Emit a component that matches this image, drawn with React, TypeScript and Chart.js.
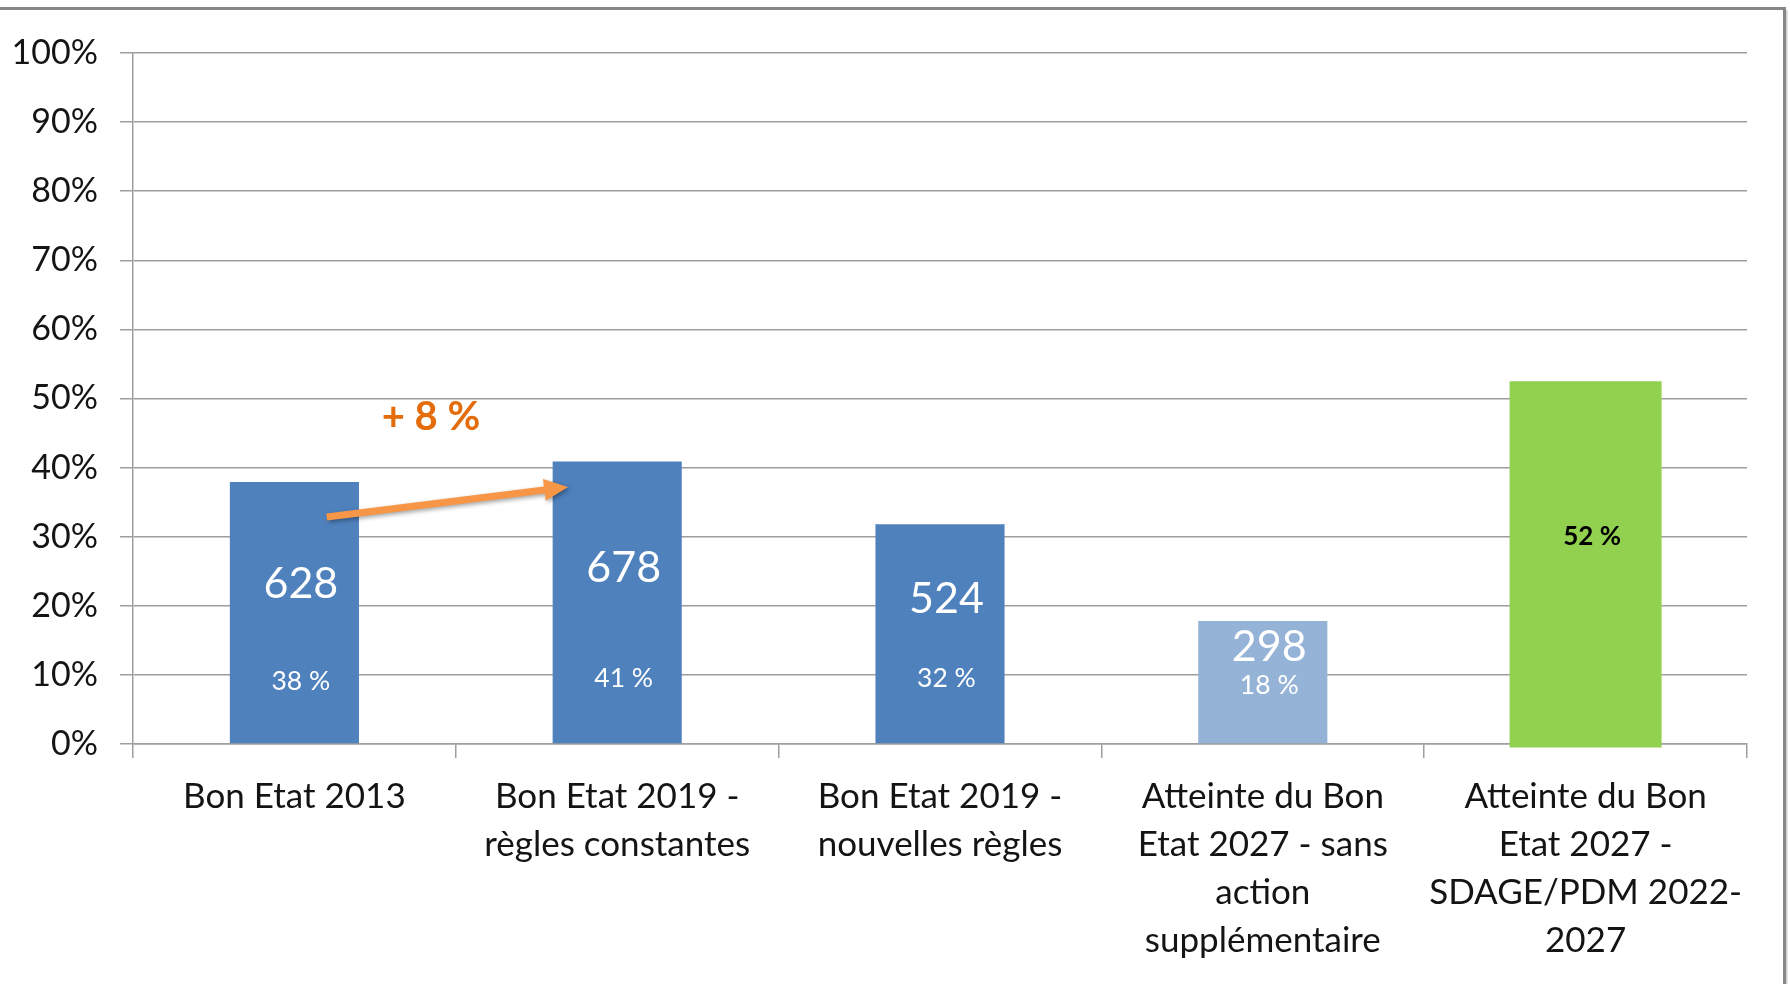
import React, { useEffect, useRef } from "react";
import { Chart, registerables } from "chart.js";

Chart.register(...registerables);

// ---------- data ----------
const categories: string[][] = [
  ["Bon Etat 2013"],
  ["Bon Etat 2019 -", "règles constantes"],
  ["Bon Etat 2019 -", "nouvelles règles"],
  ["Atteinte du Bon", "Etat 2027 - sans", "action", "supplémentaire"],
  ["Atteinte du Bon", "Etat 2027 -", "SDAGE/PDM 2022-", "2027"],
];
const stateValues: (number | null)[] = [37.9, 40.9, 31.8, 17.8, null];
const stateColors: string[] = ["#4F81BD", "#4F81BD", "#4F81BD", "#95B3D7", "#4F81BD"];
const targetValues: ([number, number] | null)[] = [null, null, null, null, [-0.5, 52.5]];
const countLabels: string[] = ["628", "678", "524", "298"];
const countLabelY: number[] = [23.2, 25.4, 20.9, 14.0];
const pctLabels: string[] = ["38 %", "41 %", "32 %", "18 %", "52 %"];
const pctLabelY: number[] = [9.0, 9.5, 9.5, 8.5, 30.0];
const yTicks: number[] = [0, 10, 20, 30, 40, 50, 60, 70, 80, 90, 100];
// arrow annotation (category index units, percent units)
const arrowFrom: [number, number] = [0.1, 32.85];
const arrowTo: [number, number] = [0.848, 37.2];
const growthLabel = "+ 8 %";
const growthLabelPos: [number, number] = [0.423, 47.3];

const FONT = 'Lato, "Open Sans", "DejaVu Sans", sans-serif';
const GRID = "#9E9E9E";
const TEXT = "#141414";

const decorPlugin = {
  id: "decor",
  beforeDraw(chart: any) {
    const ctx = chart.ctx;
    ctx.save();
    ctx.fillStyle = "#ffffff";
    ctx.fillRect(0, 0, chart.width, chart.height);
    ctx.strokeStyle = "#878787";
    ctx.lineWidth = 3;
    ctx.beginPath();
    ctx.moveTo(0, 8.5);
    ctx.lineTo(1785, 8.5);
    ctx.moveTo(1784.5, 7);
    ctx.lineTo(1784.5, chart.height);
    ctx.stroke();
    ctx.strokeStyle = "#cfcfcf";
    ctx.lineWidth = 1.5;
    ctx.beginPath();
    ctx.moveTo(1786.8, 10);
    ctx.lineTo(1786.8, chart.height);
    ctx.stroke();
    ctx.restore();
  },
  afterDatasetsDraw(chart: any) {
    const ctx = chart.ctx;
    const xs = chart.scales.x;
    const ys = chart.scales.y;
    const off = 0.02;
    ctx.save();
    ctx.textAlign = "center";
    ctx.textBaseline = "middle";
    // count labels
    ctx.fillStyle = "#ffffff";
    ctx.font = `43px ${FONT}`;
    countLabels.forEach((t, i) => {
      ctx.fillText(t, xs.getPixelForValue(i + off), ys.getPixelForValue(countLabelY[i]));
    });
    // pct labels
    pctLabels.forEach((t, i) => {
      if (i === 4) {
        ctx.fillStyle = "#000000";
        ctx.font = `bold 26px ${FONT}`;
      } else {
        ctx.fillStyle = "#ffffff";
        ctx.font = `26.5px ${FONT}`;
      }
      ctx.fillText(t, xs.getPixelForValue(i + off), ys.getPixelForValue(pctLabelY[i]));
    });
    // arrow
    const x1 = xs.getPixelForValue(arrowFrom[0]);
    const y1 = ys.getPixelForValue(arrowFrom[1]);
    const x2 = xs.getPixelForValue(arrowTo[0]);
    const y2 = ys.getPixelForValue(arrowTo[1]);
    const ang = Math.atan2(y2 - y1, x2 - x1);
    const headLen = 24;
    const headW = 11;
    const shaftW = 3.5;
    const bx = x2 - headLen * Math.cos(ang);
    const by = y2 - headLen * Math.sin(ang);
    const nx = -Math.sin(ang);
    const ny = Math.cos(ang);
    ctx.shadowColor = "rgba(0,0,0,0.35)";
    ctx.shadowBlur = 4;
    ctx.shadowOffsetX = 2;
    ctx.shadowOffsetY = 2;
    ctx.fillStyle = "#F79646";
    ctx.beginPath();
    ctx.moveTo(x1 + nx * shaftW, y1 + ny * shaftW);
    ctx.lineTo(bx + nx * shaftW, by + ny * shaftW);
    ctx.lineTo(bx + nx * headW, by + ny * headW);
    ctx.lineTo(x2, y2);
    ctx.lineTo(bx - nx * headW, by - ny * headW);
    ctx.lineTo(bx - nx * shaftW, by - ny * shaftW);
    ctx.lineTo(x1 - nx * shaftW, y1 - ny * shaftW);
    ctx.closePath();
    ctx.fill();
    ctx.shadowColor = "transparent";
    ctx.shadowBlur = 0;
    ctx.shadowOffsetX = 0;
    ctx.shadowOffsetY = 0;
    // growth text
    ctx.fillStyle = "#E46C0A";
    ctx.font = `bold 40px ${FONT}`;
    ctx.fillText(growthLabel, xs.getPixelForValue(growthLabelPos[0]), ys.getPixelForValue(growthLabelPos[1]));
    ctx.restore();
  },
};

export default function App() {
  const ref = useRef<HTMLCanvasElement>(null);
  useEffect(() => {
    const chart = new Chart(ref.current as HTMLCanvasElement, {
      type: "bar",
      data: {
        labels: categories as any,
        datasets: [
          {
            data: stateValues as any,
            backgroundColor: stateColors,
            barPercentage: 0.4,
            categoryPercentage: 1,
            grouped: false,
          } as any,
          {
            data: targetValues as any,
            backgroundColor: "#92D050",
            barPercentage: 0.471,
            categoryPercentage: 1,
            grouped: false,
            clip: false,
          } as any,
        ],
      },
      options: {
        responsive: false,
        devicePixelRatio: 1,
        animation: false,
        layout: { padding: { top: 53, right: 43, left: 0, bottom: 0 } },
        plugins: { legend: { display: false }, tooltip: { enabled: false } },
        scales: {
          x: {
            type: "category",
            offset: true,
            grid: {
              display: true,
              drawOnChartArea: false,
              drawTicks: true,
              tickLength: 14,
              color: GRID,
              lineWidth: 1.5,
              offset: true,
            },
            border: { display: true, color: GRID, width: 1.5 },
            ticks: {
              color: TEXT,
              font: { family: FONT, size: 35, lineHeight: 1.37 },
              padding: 15,
              maxRotation: 0,
              minRotation: 0,
              autoSkip: false,
            },
            afterFit(s: any) {
              s.height = 240;
            },
          } as any,
          y: {
            min: 0,
            max: 100,
            afterBuildTicks(s: any) {
              s.ticks = yTicks.map((v) => ({ value: v }));
            },
            ticks: {
              color: TEXT,
              font: { family: FONT, size: 34 },
              padding: 22,
              callback: (v: any) => `${v}%`,
            },
            grid: { color: GRID, lineWidth: 1.5, tickLength: 13, drawTicks: true },
            border: { display: true, color: GRID, width: 1.5 },
            afterFit(s: any) {
              s.width = 133;
            },
          } as any,
        },
      },
      plugins: [decorPlugin],
    });
    return () => chart.destroy();
  }, []);
  return (
    <div style={{ position: "fixed", left: 0, top: 0, width: 1790, height: 984, background: "#fff" }}>
      <canvas ref={ref} width={1790} height={984} style={{ display: "block", width: 1790, height: 984 }} />
    </div>
  );
}
